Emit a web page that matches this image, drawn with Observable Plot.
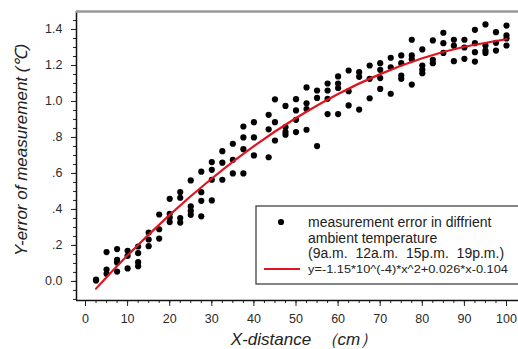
<!DOCTYPE html>
<html>
<head>
<meta charset="utf-8">
<script src="https://cdn.jsdelivr.net/npm/d3@7"></script>
<script src="https://cdn.jsdelivr.net/npm/@observablehq/plot@0.6"></script>
<style>
  html, body { margin: 0; padding: 0; background: #fff; }
  #chart { width: 518px; height: 349px; overflow: hidden; }
</style>
</head>
<body>
<div id="chart"></div>
<script>
// Measured distance positions (cm), one entry per point
const xValues = [
  2.5, 2.5,
  5, 5, 5,
  7.5, 7.5, 7.5, 7.5,
  10, 10, 10,
  12.5, 12.5, 12.5, 12.5,
  15, 15, 15,
  17.5, 17.5, 17.5,
  20, 20, 20, 20,
  22.5, 22.5, 22.5, 22.5,
  25, 25, 25, 25,
  27.5, 27.5, 27.5, 27.5,
  30, 30, 30, 30,
  32.5, 32.5, 32.5,
  35, 35, 35,
  37.5, 37.5, 37.5, 37.5,
  40, 40, 40,
  43.5, 43.5, 43.5,
  45, 45, 45,
  47.5, 47.5, 47.5, 47.5,
  50, 50, 50, 50,
  52.5, 52.5, 52.5, 52.5,
  55, 55, 55,
  57.5, 57.5, 57.5, 57.5,
  60, 60, 60, 60,
  62.5, 62.5, 62.5,
  65, 65, 65,
  67.5, 67.5, 67.5,
  70, 70, 70, 70,
  72.5, 72.5, 72.5,
  75, 75, 75, 75,
  77.5, 77.5, 77.5, 77.5,
  80, 80, 80, 80,
  82.5, 82.5, 82.5,
  85, 85, 85,
  87.5, 87.5, 87.5,
  90, 90, 90,
  92.5, 92.5, 92.5, 92.5,
  95, 95, 95, 95,
  97.5, 97.5, 97.5,
  100, 100, 100, 100
];
// Measurement error (℃), same order as xValues
const yValues = [
  0.01, 0.005,
  0.163, 0.066, 0.042,
  0.18, 0.12, 0.105, 0.055,
  0.17, 0.142, 0.072,
  0.194, 0.157, 0.107, 0.085,
  0.272, 0.233, 0.196,
  0.372, 0.29, 0.238,
  0.459, 0.376, 0.355, 0.33,
  0.497, 0.465, 0.352, 0.327,
  0.561, 0.417, 0.392, 0.37,
  0.61, 0.496, 0.448, 0.362,
  0.663, 0.62, 0.565, 0.45,
  0.724, 0.66, 0.565,
  0.765, 0.676, 0.6,
  0.861, 0.80, 0.735, 0.6,
  0.885, 0.80, 0.70,
  0.926, 0.845, 0.69,
  1.012, 0.885, 0.783,
  0.975, 0.857, 0.83, 0.815,
  1.013, 0.95, 0.898, 0.83,
  1.078, 0.99, 0.958, 0.843,
  1.061, 1.02, 0.752,
  1.10, 1.061, 1.015, 0.93,
  1.139, 1.10, 1.075, 0.93,
  1.172, 1.057, 0.978,
  1.163, 1.137, 0.955,
  1.20, 1.126, 1.018,
  1.213, 1.176, 1.13, 1.07,
  1.243, 1.19, 1.043,
  1.256, 1.213, 1.144, 1.126,
  1.343, 1.256, 1.235, 1.094,
  1.289, 1.20, 1.176, 1.157,
  1.339, 1.232, 1.213,
  1.382, 1.324, 1.27,
  1.343, 1.31, 1.224,
  1.343, 1.30, 1.237,
  1.398, 1.324, 1.274, 1.222,
  1.428, 1.311, 1.283, 1.27,
  1.385, 1.326, 1.283,
  1.422, 1.367, 1.35, 1.311
];
// Fitted curve
const fitX = [2.5, 10, 20, 30, 40, 50, 60, 70, 80, 90, 100];
const fitY = [-0.04, 0.145, 0.37, 0.572, 0.752, 0.908, 1.042, 1.152, 1.24, 1.304, 1.346];

const xTicks = [0, 10, 20, 30, 40, 50, 60, 70, 80, 90, 100];
const xMinorTicks = d3.range(0, 102.5, 2.5);
const yTicks = [0, 0.2, 0.4, 0.6, 0.8, 1.0, 1.2, 1.4];
const yMinorTicks = d3.range(-0.1, 1.5, 0.05).map(v => Math.round(v * 100) / 100);

const legendLines = [
  "measurement error in diffrient",
  "ambient temperature",
  "(9a.m.  12a.m.  15p.m.  19p.m.)"
];
const fitLabel = "y=-1.15*10^(-4)*x^2+0.026*x-0.104";
const xTitle = "X-distance  （cm）";
const yTitle = "Y-error of measurement (℃)";

const points = xValues.map((x, i) => ({x, y: yValues[i]}));
const fit = fitX.map((x, i) => ({x, y: fitY[i]}));

const xDomain = [-2.14, 102.85];
const yDomain = [-0.106, 1.5];
const yFmt = d => (d > 0 && d < 1) ? d.toFixed(1).slice(1) : d.toFixed(1);

const chart = Plot.plot({
  width: 518,
  height: 349,
  marginLeft: 76,
  marginTop: 11,
  marginRight: 0,
  marginBottom: 49,
  style: {background: "#fff", fontFamily: "'Liberation Sans', Arial, sans-serif", fontSize: "12.5px", color: "#2a2a2a"},
  x: {domain: xDomain},
  y: {domain: yDomain},
  marks: [
    Plot.axisX({ticks: xMinorTicks, tickSize: 3, tickFormat: () => "", label: null, stroke: "#222"}),
    Plot.axisX({ticks: xTicks, tickSize: 6, tickPadding: 8, label: null, stroke: "#222"}),
    Plot.axisY({ticks: yMinorTicks, tickSize: 3, tickFormat: () => "", label: null, stroke: "#222"}),
    Plot.axisY({ticks: yTicks, tickSize: 5, tickPadding: 9, tickFormat: yFmt, label: null, stroke: "#222"}),
    Plot.ruleX([xDomain[0]], {stroke: "#111", strokeWidth: 1.5}),
    Plot.ruleY([yDomain[0]], {stroke: "#111", strokeWidth: 1.5}),
    Plot.ruleY([yDomain[1]], {stroke: "#999", strokeWidth: 2.5}),
    Plot.dot(points, {x: "x", y: "y", r: 3.1, fill: "#000", stroke: null}),
    Plot.line(fit, {x: "x", y: "y", stroke: "#e0141e", strokeWidth: 2.2, curve: "natural"})
  ]
});

document.getElementById("chart").appendChild(chart);

const svg = d3.select(chart);
// Axis titles
svg.append("text")
  .attr("transform", "translate(23,150) rotate(-90)")
  .attr("text-anchor", "middle")
  .attr("dominant-baseline", "middle")
  .attr("font-style", "italic")
  .attr("font-size", 17)
  .attr("fill", "#222")
  .text(yTitle);
svg.append("text")
  .attr("x", 304)
  .attr("y", 345)
  .attr("text-anchor", "middle")
  .attr("font-style", "italic")
  .attr("font-size", 17)
  .attr("fill", "#222")
  .text(xTitle);

// Legend
const lg = svg.append("g").attr("text-anchor", "start");
lg.append("rect")
  .attr("x", 256).attr("y", 206).attr("width", 270).attr("height", 78)
  .attr("fill", "#fff").attr("stroke", "#333").attr("stroke-width", 1.2);
lg.append("circle").attr("cx", 281).attr("cy", 222).attr("r", 3.1).attr("fill", "#000");
legendLines.forEach((t, i) => {
  lg.append("text")
    .attr("x", 308).attr("y", 227 + i * 15.5)
    .attr("text-anchor", "start")
    .attr("font-size", 14).attr("fill", "#222")
    .text(t);
});
lg.append("line")
  .attr("x1", 264).attr("x2", 300).attr("y1", 269).attr("y2", 269)
  .attr("stroke", "#e0141e").attr("stroke-width", 2.2);
lg.append("text")
  .attr("x", 308).attr("y", 273)
  .attr("text-anchor", "start")
  .attr("font-size", 11.5).attr("fill", "#222")
  .attr("textLength", 200).attr("lengthAdjust", "spacingAndGlyphs")
  .text(fitLabel);
</script>
</body>
</html>
